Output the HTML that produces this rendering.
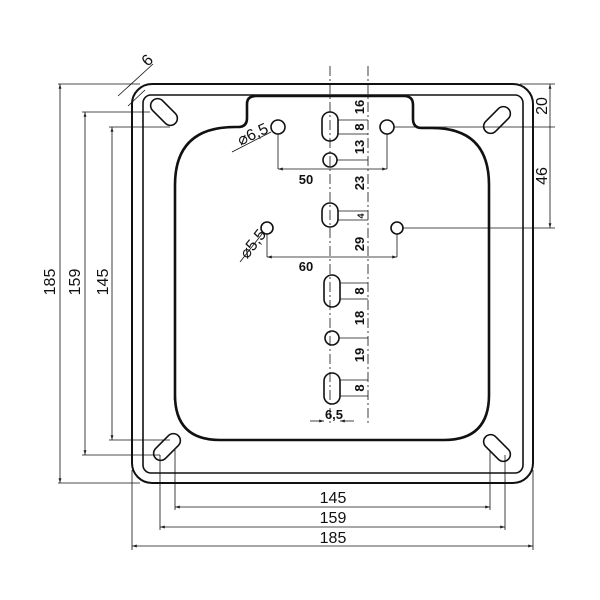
<!DOCTYPE html>
<html><head><style>html,body{margin:0;padding:0;background:#fff}svg{display:block}text{font-family:"Liberation Sans",sans-serif;fill:#111}.b{font-weight:bold}</style></head><body>
<svg width="600" height="600" viewBox="0 0 600 600" xmlns="http://www.w3.org/2000/svg">
<defs><marker id="a" viewBox="0 0 10 10" refX="10" refY="5" markerWidth="6" markerHeight="6" orient="auto-start-reverse"><path d="M0,2L10,5L0,8z" fill="#222"/></marker></defs>
<g fill="none" stroke="#111">
<rect x="132" y="84" width="401" height="399" rx="20" stroke-width="2"/>
<rect x="143" y="95" width="380" height="378" rx="8" stroke-width="1.6"/>
<path d="M175,400 L175,185 Q175,127 235,127 L238,127 Q247,127 247,118 L247,104 Q247,96 256,96 L404,96 Q413,96 413,105 L413,119 Q413,128 422,128 L432,128 Q489,128 489,185 L489,395 Q489,440 444,440 L220,440 Q175,440 175,395 Z" stroke-width="2.6"/>
<g stroke-width="1.6">
<rect x="148" y="105" width="32" height="14" rx="7" transform="rotate(45 164 112)"/>
<rect x="481" y="113" width="32" height="14" rx="7" transform="rotate(-45 497 120)"/>
<rect x="151" y="440" width="32" height="14" rx="7" transform="rotate(-45 167 447)"/>
<rect x="481" y="441" width="32" height="14" rx="7" transform="rotate(45 497 448)"/>
</g>
<g stroke-width="1.6">
<rect x="322" y="112" width="16" height="29" rx="8"/>
<circle cx="330" cy="160" r="7"/>
<rect x="322" y="203" width="16" height="24" rx="8"/>
<rect x="324" y="275" width="16" height="32" rx="8"/>
<circle cx="332" cy="338" r="7"/>
<rect x="324" y="373" width="16" height="31" rx="8"/>
<circle cx="278" cy="127" r="7"/>
<circle cx="387" cy="127" r="7"/>
<circle cx="267" cy="228" r="6"/>
<circle cx="397" cy="228" r="6"/>
</g>
<line x1="330" y1="66" x2="330" y2="425" stroke-width="0.8" stroke-dasharray="10,3,2,3"/>
<line x1="368" y1="66" x2="368" y2="425" stroke-width="0.8" stroke-dasharray="10,3,2,3"/>
<g stroke-width="0.8">
<line x1="338" y1="120" x2="368" y2="120"/><line x1="338" y1="134" x2="368" y2="134"/>
<line x1="337" y1="160" x2="368" y2="160"/><line x1="338" y1="211" x2="368" y2="211"/><line x1="338" y1="220" x2="368" y2="220"/>
<line x1="340" y1="283" x2="368" y2="283"/><line x1="340" y1="299" x2="368" y2="299"/>
<line x1="339" y1="338" x2="368" y2="338"/><line x1="340" y1="380" x2="368" y2="380"/><line x1="340" y1="396" x2="368" y2="396"/>
<line x1="403" y1="228" x2="555" y2="228"/><line x1="394" y1="127" x2="555" y2="127"/><line x1="520" y1="84" x2="555" y2="84"/>
<line x1="550" y1="84" x2="550" y2="228" marker-start="url(#a)" marker-end="url(#a)"/>
<line x1="278" y1="134" x2="278" y2="169"/><line x1="387" y1="134" x2="387" y2="169"/>
<line x1="278" y1="169" x2="387" y2="169" marker-start="url(#a)" marker-end="url(#a)"/>
<line x1="267" y1="234" x2="267" y2="257"/><line x1="397" y1="234" x2="397" y2="257"/>
<line x1="267" y1="257" x2="397" y2="257" marker-start="url(#a)" marker-end="url(#a)"/>
<line x1="232" y1="152" x2="271" y2="132"/><line x1="240" y1="262" x2="262" y2="234"/>
<line x1="310" y1="421" x2="324" y2="421" marker-end="url(#a)"/><line x1="354" y1="421" x2="340" y2="421" marker-end="url(#a)"/>
<line x1="58" y1="84" x2="140" y2="84"/><line x1="58" y1="483" x2="140" y2="483"/>
<line x1="82" y1="112" x2="150" y2="112"/><line x1="82" y1="455" x2="160" y2="455"/>
<line x1="109" y1="127" x2="170" y2="127"/><line x1="109" y1="440" x2="170" y2="440"/>
<line x1="60" y1="84" x2="60" y2="483" marker-start="url(#a)" marker-end="url(#a)"/>
<line x1="85" y1="112" x2="85" y2="455" marker-start="url(#a)" marker-end="url(#a)"/>
<line x1="112" y1="127" x2="112" y2="440" marker-start="url(#a)" marker-end="url(#a)"/>
<line x1="132" y1="470" x2="132" y2="550"/><line x1="533" y1="470" x2="533" y2="550"/>
<line x1="160" y1="455" x2="160" y2="530"/><line x1="505" y1="455" x2="505" y2="530"/>
<line x1="175" y1="450" x2="175" y2="510"/><line x1="490" y1="450" x2="490" y2="510"/>
<line x1="175" y1="507" x2="490" y2="507" marker-start="url(#a)" marker-end="url(#a)"/>
<line x1="160" y1="527" x2="505" y2="527" marker-start="url(#a)" marker-end="url(#a)"/>
<line x1="132" y1="546" x2="533" y2="546" marker-start="url(#a)" marker-end="url(#a)"/>
<line x1="118" y1="96" x2="153" y2="64"/><line x1="128" y1="106" x2="145" y2="90"/>
</g>
</g>
<g font-size="16">
<text x="333" y="503" text-anchor="middle">145</text>
<text x="333" y="523" text-anchor="middle">159</text>
<text x="333" y="543" text-anchor="middle">185</text>
<text transform="translate(55,282) rotate(-90)" text-anchor="middle">185</text>
<text transform="translate(80,282) rotate(-90)" text-anchor="middle">159</text>
<text transform="translate(108,282) rotate(-90)" text-anchor="middle">145</text>
<text transform="translate(547,106) rotate(-90)" text-anchor="middle">20</text>
<text transform="translate(547,176) rotate(-90)" text-anchor="middle">46</text>
<text transform="translate(151,64) rotate(-45)" text-anchor="middle">6</text>
<text transform="translate(255,139) rotate(-25)" text-anchor="middle">⌀6,5</text>
<text transform="translate(257,247) rotate(-52)" text-anchor="middle">⌀5,5</text>
</g>
<g font-size="13" class="b">
<text x="306" y="184" text-anchor="middle">50</text>
<text x="306" y="271" text-anchor="middle">60</text>
<text x="334" y="419" text-anchor="middle">6,5</text>
<text transform="translate(364,107) rotate(-90)" text-anchor="middle">16</text>
<text transform="translate(364,127) rotate(-90)" text-anchor="middle">8</text>
<text transform="translate(364,147) rotate(-90)" text-anchor="middle">13</text>
<text transform="translate(364,183) rotate(-90)" text-anchor="middle">23</text>
<text transform="translate(364,216) rotate(-90)" text-anchor="middle" font-size="9">4</text>
<text transform="translate(364,244) rotate(-90)" text-anchor="middle">29</text>
<text transform="translate(364,291) rotate(-90)" text-anchor="middle">8</text>
<text transform="translate(364,318) rotate(-90)" text-anchor="middle">18</text>
<text transform="translate(364,355) rotate(-90)" text-anchor="middle">19</text>
<text transform="translate(364,388) rotate(-90)" text-anchor="middle">8</text>
</g>
</svg>
</body></html>
